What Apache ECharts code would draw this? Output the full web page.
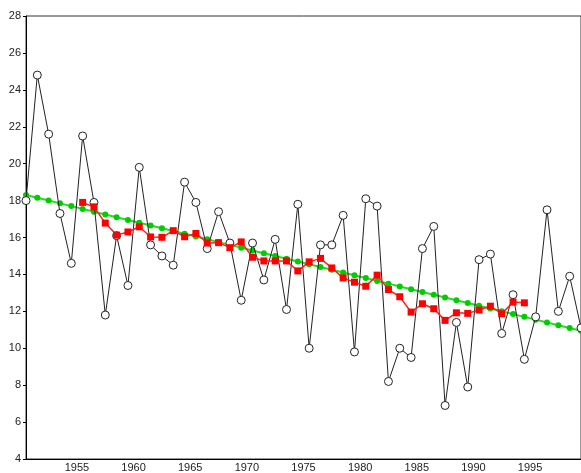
<!DOCTYPE html>
<html>
<head>
<meta charset="utf-8">
<script src="https://cdn.jsdelivr.net/npm/echarts@6/dist/echarts.min.js"></script>
<style>html,body{margin:0;padding:0;background:#fff}#main{width:581px;height:473px}</style>
</head>
<body>
<div id="main"></div>
<script>
// x positions: first point sits on the left axis edge
var startYear = 1950.5;
var yearTicks = [1955, 1960, 1965, 1970, 1975, 1980, 1985, 1990, 1995];

// annual values (black, open circles)
var annual = [18.0, 24.8, 21.6, 17.3, 14.6, 21.5, 17.9, 11.8, 16.1, 13.4,
  19.8, 15.6, 15.0, 14.5, 19.0, 17.9, 15.4, 17.4, 15.7, 12.6,
  15.7, 13.7, 15.9, 12.1, 17.8, 10.0, 15.6, 15.6, 17.2, 9.8,
  18.1, 17.7, 8.2, 10.0, 9.5, 15.4, 16.6, 6.9, 11.4, 7.9,
  14.8, 15.1, 10.8, 12.9, 9.4, 11.7, 17.5, 12.0, 13.9, 11.1];

// moving average (red squares), starts at index 5
var avgStart = 5;
var movingAvg = [17.9, 17.66, 16.78, 16.13, 16.3, 16.58, 16.03, 16.01, 16.37, 16.04,
  16.22, 15.7, 15.72, 15.45, 15.76, 14.93, 14.73, 14.73, 14.73, 14.19,
  14.68, 14.87, 14.35, 13.81, 13.58, 13.36, 13.96, 13.18, 12.79, 11.96,
  12.41, 12.14, 11.51, 11.92, 11.89, 12.07, 12.28, 11.87, 12.5, 12.46];

// linear trend (green)
var trend = [18.3, 18.15, 18.0, 17.85, 17.7, 17.55, 17.4, 17.25, 17.1, 16.95,
  16.8, 16.65, 16.5, 16.35, 16.2, 16.05, 15.9, 15.75, 15.6, 15.45,
  15.3, 15.15, 15.0, 14.85, 14.7, 14.55, 14.4, 14.25, 14.1, 13.95,
  13.8, 13.65, 13.5, 13.35, 13.2, 13.05, 12.9, 12.75, 12.6, 12.45,
  12.3, 12.15, 12.0, 11.85, 11.7, 11.55, 11.4, 11.25, 11.1, 10.95];

function pairs(arr, offset) {
  return arr.map(function (v, i) { return [startYear + offset + i, v]; });
}

var chart = echarts.init(document.getElementById('main'));
chart.setOption({
  animation: false,
  grid: { left: 26, right: 0, top: 16, bottom: 13, show: true, borderColor: '#333', borderWidth: 1 },
  xAxis: {
    type: 'value', min: 1950.5, max: 1999.5,
    splitLine: { show: false },
    axisLine: { lineStyle: { color: '#000' } },
    axisTick: { show: false },
    axisLabel: {
      customValues: yearTicks, color: '#222', fontSize: 11, margin: 3, fontFamily: 'Liberation Sans',
      formatter: function (v) { return String(v); }
    }
  },
  yAxis: {
    type: 'value', min: 4, max: 28, interval: 2,
    splitLine: { show: false },
    axisLine: { show: true, lineStyle: { color: '#000' } },
    axisTick: { show: true, length: 3, lineStyle: { color: '#000' } },
    axisLabel: { color: '#222', fontSize: 11, margin: 5, fontFamily: 'Liberation Sans' }
  },
  series: [
    {
      type: 'line', data: pairs(trend, 0), z: 2,
      lineStyle: { color: '#22dd22', width: 2 },
      symbol: 'circle', symbolSize: 6,
      itemStyle: { color: '#00cc00' }
    },
    {
      type: 'line', data: pairs(annual, 0), z: 3,
      lineStyle: { color: '#222', width: 1 },
      symbol: 'circle', symbolSize: 8, showAllSymbol: true,
      itemStyle: { color: '#fff', borderColor: '#222', borderWidth: 1 }
    },
    {
      type: 'line', data: pairs(movingAvg, avgStart), z: 4,
      lineStyle: { color: '#ff2020', width: 1.5 },
      symbol: 'rect', symbolSize: 7,
      itemStyle: { color: '#ff0000' }
    }
  ]
});
</script>
</body>
</html>
